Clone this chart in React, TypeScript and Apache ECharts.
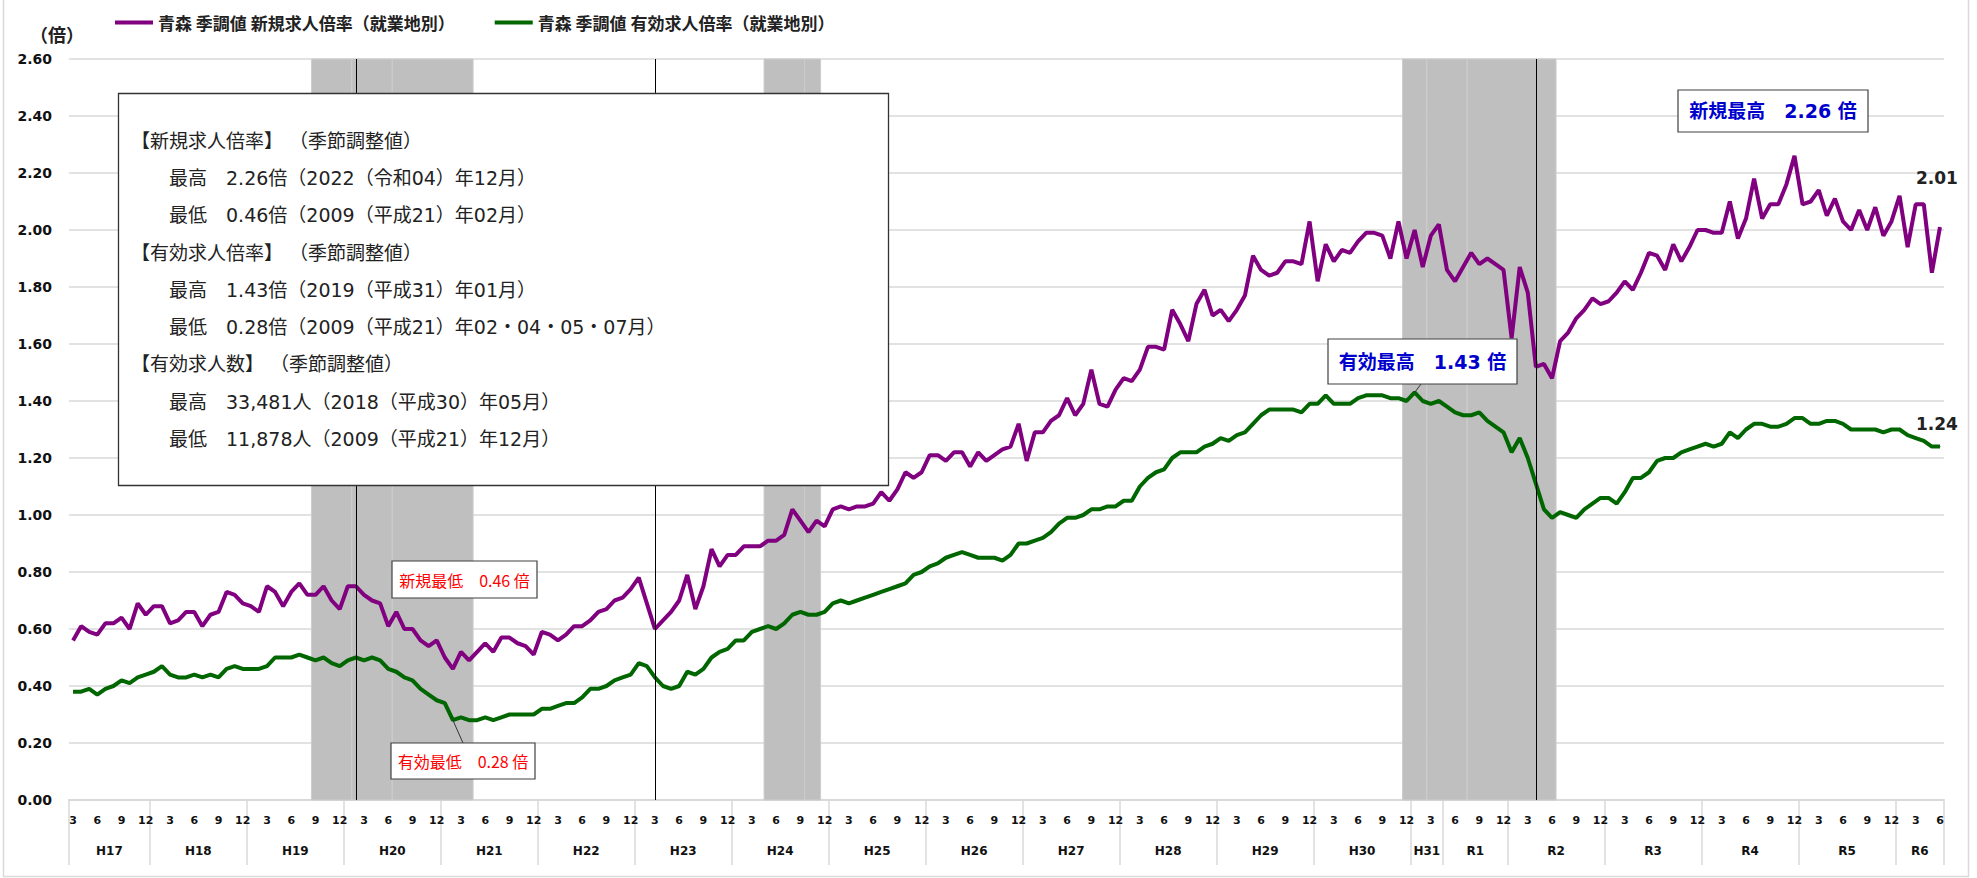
import React, { useEffect, useRef } from "react";
import * as echarts from "echarts";

// ---- data ----
const START_YEAR = 2005;
const START_MONTH = 3;

// 青森 季調値 新規求人倍率（就業地別） 2005/03 .. 2024/06
const newRatio = [
  0.56, 0.61, 0.59, 0.58, 0.62, 0.62, 0.64, 0.60, 0.69, 0.65,
  0.68, 0.68, 0.62, 0.63, 0.66, 0.66, 0.61, 0.65, 0.66, 0.73,
  0.72, 0.69, 0.68, 0.66, 0.75, 0.73, 0.68, 0.73, 0.76, 0.72,
  0.72, 0.75, 0.70, 0.67, 0.75, 0.75, 0.72, 0.70, 0.69, 0.61,
  0.66, 0.60, 0.60, 0.56, 0.54, 0.56, 0.50, 0.46, 0.52, 0.49,
  0.52, 0.55, 0.52, 0.57, 0.57, 0.55, 0.54, 0.51, 0.59, 0.58,
  0.56, 0.58, 0.61, 0.61, 0.63, 0.66, 0.67, 0.70, 0.71, 0.74,
  0.78, 0.69, 0.60, 0.63, 0.66, 0.70, 0.79, 0.67, 0.75, 0.88,
  0.82, 0.86, 0.86, 0.89, 0.89, 0.89, 0.91, 0.91, 0.93, 1.02,
  0.98, 0.94, 0.98, 0.96, 1.02, 1.03, 1.02, 1.03, 1.03, 1.04,
  1.08, 1.05, 1.09, 1.15, 1.13, 1.15, 1.21, 1.21, 1.19, 1.22,
  1.22, 1.17, 1.22, 1.19, 1.21, 1.23, 1.24, 1.32, 1.19, 1.29,
  1.29, 1.33, 1.35, 1.41, 1.35, 1.39, 1.51, 1.39, 1.38, 1.44,
  1.48, 1.47, 1.51, 1.59, 1.59, 1.58, 1.72, 1.67, 1.61, 1.74,
  1.79, 1.70, 1.72, 1.68, 1.72, 1.77, 1.91, 1.86, 1.84, 1.85,
  1.89, 1.89, 1.88, 2.03, 1.82, 1.95, 1.89, 1.93, 1.92, 1.96,
  1.99, 1.99, 1.98, 1.90, 2.03, 1.90, 2.00, 1.87, 1.98, 2.02,
  1.86, 1.82, 1.87, 1.92, 1.88, 1.90, 1.88, 1.86, 1.62, 1.87,
  1.78, 1.52, 1.53, 1.48, 1.61, 1.64, 1.69, 1.72, 1.76, 1.74,
  1.75, 1.78, 1.82, 1.79, 1.85, 1.92, 1.91, 1.86, 1.95, 1.89,
  1.94, 2.00, 2.00, 1.99, 1.99, 2.10, 1.97, 2.04, 2.18, 2.04,
  2.09, 2.09, 2.16, 2.26, 2.09, 2.10, 2.14, 2.05, 2.11, 2.03,
  2.00, 2.07, 2.00, 2.08, 1.98, 2.03, 2.12, 1.94, 2.09, 2.09,
  1.85, 2.01,
];

// 青森 季調値 有効求人倍率（就業地別）
const activeRatio = [
  0.38, 0.38, 0.39, 0.37, 0.39, 0.40, 0.42, 0.41, 0.43, 0.44,
  0.45, 0.47, 0.44, 0.43, 0.43, 0.44, 0.43, 0.44, 0.43, 0.46,
  0.47, 0.46, 0.46, 0.46, 0.47, 0.50, 0.50, 0.50, 0.51, 0.50,
  0.49, 0.50, 0.48, 0.47, 0.49, 0.50, 0.49, 0.50, 0.49, 0.46,
  0.45, 0.43, 0.42, 0.39, 0.37, 0.35, 0.34, 0.28, 0.29, 0.28,
  0.28, 0.29, 0.28, 0.29, 0.30, 0.30, 0.30, 0.30, 0.32, 0.32,
  0.33, 0.34, 0.34, 0.36, 0.39, 0.39, 0.40, 0.42, 0.43, 0.44,
  0.48, 0.47, 0.43, 0.40, 0.39, 0.40, 0.45, 0.44, 0.46, 0.50,
  0.52, 0.53, 0.56, 0.56, 0.59, 0.60, 0.61, 0.60, 0.62, 0.65,
  0.66, 0.65, 0.65, 0.66, 0.69, 0.70, 0.69, 0.70, 0.71, 0.72,
  0.73, 0.74, 0.75, 0.76, 0.79, 0.80, 0.82, 0.83, 0.85, 0.86,
  0.87, 0.86, 0.85, 0.85, 0.85, 0.84, 0.86, 0.90, 0.90, 0.91,
  0.92, 0.94, 0.97, 0.99, 0.99, 1.00, 1.02, 1.02, 1.03, 1.03,
  1.05, 1.05, 1.10, 1.13, 1.15, 1.16, 1.20, 1.22, 1.22, 1.22,
  1.24, 1.25, 1.27, 1.26, 1.28, 1.29, 1.32, 1.35, 1.37, 1.37,
  1.37, 1.37, 1.36, 1.39, 1.39, 1.42, 1.39, 1.39, 1.39, 1.41,
  1.42, 1.42, 1.42, 1.41, 1.41, 1.40, 1.43, 1.40, 1.39, 1.40,
  1.38, 1.36, 1.35, 1.35, 1.36, 1.33, 1.31, 1.29, 1.22, 1.27,
  1.20, 1.11, 1.02, 0.99, 1.01, 1.00, 0.99, 1.02, 1.04, 1.06,
  1.06, 1.04, 1.08, 1.13, 1.13, 1.15, 1.19, 1.20, 1.20, 1.22,
  1.23, 1.24, 1.25, 1.24, 1.25, 1.29, 1.27, 1.30, 1.32, 1.32,
  1.31, 1.31, 1.32, 1.34, 1.34, 1.32, 1.32, 1.33, 1.33, 1.32,
  1.30, 1.30, 1.30, 1.30, 1.29, 1.30, 1.30, 1.28, 1.27, 1.26,
  1.24, 1.24,
];

const months: string[] = newRatio.map((_, i) => {
  const m = START_MONTH - 1 + i;
  return `${START_YEAR + Math.floor(m / 12)}/${(m % 12) + 1}`;
});

// era-year labels and their month-index boundaries
const yearLabels = [
  "H17", "H18", "H19", "H20", "H21", "H22", "H23", "H24", "H25", "H26",
  "H27", "H28", "H29", "H30", "H31", "R1", "R2", "R3", "R4", "R5", "R6",
];
const yearBounds = [
  0, 10, 22, 34, 46, 58, 70, 82, 94, 106, 118, 130, 142, 154, 166, 170,
  178, 190, 202, 214, 226, 232,
];

// shaded periods (month-index boundaries)
const shadedPeriods = [
  [30, 35], [35, 40], [40, 50],
  [86, 91], [91, 93],
  [165, 168], [168, 173], [173, 184],
];
// vertical event lines (month index)
const eventMonths = [35, 72, 181];

const NAME_NEW = "青森 季調値 新規求人倍率（就業地別）";
const NAME_ACT = "青森 季調値 有効求人倍率（就業地別）";

const infoLines = [
  "【新規求人倍率】 （季節調整値）",
  "　　最高　2.26倍（2022（令和04）年12月）",
  "　　最低　0.46倍（2009（平成21）年02月）",
  "【有効求人倍率】 （季節調整値）",
  "　　最高　1.43倍（2019（平成31）年01月）",
  "　　最低　0.28倍（2009（平成21）年02・04・05・07月）",
  "【有効求人数】 （季節調整値）",
  "　　最高　33,481人（2018（平成30）年05月）",
  "　　最低　11,878人（2009（平成21）年12月）",
];

const JP = '"Noto Sans CJK JP", "Noto Sans", sans-serif';
const NUM = '"DejaVu Sans", "Noto Sans CJK JP", sans-serif';

const yearCenters = yearLabels.map((_, k) => (yearBounds[k] + yearBounds[k + 1]) / 2);

function withEndLabel(values: number[], color: string, distance: number) {
  return values.map((v, i) =>
    i === values.length - 1
      ? {
          value: v,
          symbol: "circle",
          symbolSize: 1,
          itemStyle: { color },
          label: {
            show: true,
            position: "top",
            distance,
            offset: [-3, 0],
            formatter: (p: any) => Number(p.value).toFixed(2),
            fontFamily: NUM,
            fontWeight: "bold",
            fontSize: 17,
            color: "#222",
          },
        }
      : v
  );
}

export default function App() {
  const ref = useRef<HTMLDivElement>(null);
  useEffect(() => {
    if (!ref.current) return;
    const chart = echarts.init(ref.current, undefined, { renderer: "svg" });
    chart.setOption({
      animation: false,
      backgroundColor: "#fff",
      legend: {
        data: [NAME_NEW, NAME_ACT],
        left: 110,
        top: 9,
        icon: "rect",
        itemWidth: 38,
        itemHeight: 4,
        itemGap: 40,
        textStyle: { fontFamily: JP, fontWeight: "bold", fontSize: 17, color: "#222" },
      },
      grid: { left: 69, right: 33, top: 59, bottom: 78 },
      xAxis: [
        {
          type: "category",
          data: months,
          boundaryGap: true,
          axisLine: { show: true, lineStyle: { color: "#d9d9d9", width: 2 } },
          axisTick: { show: false },
          splitLine: { show: false },
          axisLabel: {
            interval: (_idx: number, v: string) => parseInt(v.split("/")[1], 10) % 3 === 0,
            formatter: (v: string) => v.split("/")[1],
            margin: 15,
            fontFamily: NUM,
            fontWeight: "bold",
            fontSize: 11,
            color: "#111",
          },
        },
        {
          type: "value",
          position: "bottom",
          min: 0,
          max: yearBounds[yearBounds.length - 1],
          axisLine: { show: false },
          splitLine: { show: false },
          axisTick: {
            show: true,
            customValues: yearBounds,
            length: 65,
            lineStyle: { color: "#d9d9d9", width: 1.5 },
          },
          axisLabel: {
            customValues: yearCenters,
            formatter: (v: number) => {
              const k = yearCenters.findIndex((c) => Math.abs(c - v) < 1e-6);
              return k >= 0 ? yearLabels[k] : "";
            },
            margin: 45,
            fontFamily: NUM,
            fontWeight: "bold",
            fontSize: 12,
            color: "#111",
          },
        },
      ],
      yAxis: {
        type: "value",
        min: 0,
        max: 2.6,
        interval: 0.2,
        axisLine: { show: false },
        axisTick: { show: false },
        splitLine: { lineStyle: { color: "#d9d9d9", width: 1.5 } },
        axisLabel: {
          formatter: (v: number) => v.toFixed(2),
          margin: 17,
          fontFamily: NUM,
          fontWeight: "bold",
          fontSize: 14,
          color: "#111",
        },
      },
      series: [
        {
          type: "line",
          xAxisIndex: 1,
          yAxisIndex: 0,
          data: [],
          silent: true,
          z: 1,
          markArea: {
            silent: true,
            itemStyle: { color: "#bfbfbf", borderColor: "#cdcdcd", borderWidth: 1 },
            data: shadedPeriods.map(([a, b]) => [{ xAxis: a }, { xAxis: b }]),
          },
          markLine: {
            silent: true,
            symbol: ["none", "none"],
            label: { show: false },
            lineStyle: { color: "#000", width: 1, type: "solid" },
            data: eventMonths.map((i) => ({ xAxis: i + 0.5 })),
          },
        },
        {
          name: NAME_NEW,
          type: "line",
          xAxisIndex: 0,
          data: withEndLabel(newRatio, "#800080", 40),
          symbol: "none",
          showAllSymbol: true,
          z: 3,
          color: "#800080",
          lineStyle: { color: "#800080", width: 4 },
        },
        {
          name: NAME_ACT,
          type: "line",
          xAxisIndex: 0,
          data: withEndLabel(activeRatio, "#006600", 14),
          symbol: "none",
          showAllSymbol: true,
          z: 3,
          color: "#006600",
          lineStyle: { color: "#006600", width: 4 },
        },
      ],
    });

    const toPx = (i: number, v: number) =>
      chart.convertToPixel({ xAxisIndex: 0, yAxisIndex: 0 }, [i, v]) as number[];
    const actMin = toPx(47, activeRatio[47]);
    const actMax = toPx(166, activeRatio[166]);

    const box = (x: number, y: number, w: number, h: number, text: string, color: string, bold: boolean, size: number) => ({
      type: "group",
      z: 100,
      children: [
        { type: "rect", shape: { x, y, width: w, height: h }, style: { fill: "#fff", stroke: "#404040", lineWidth: 1.2 }, z: 100 },
        {
          type: "text",
          z: 101,
          style: {
            x: x + w / 2,
            y: y + h / 2,
            text,
            align: "center",
            verticalAlign: "middle",
            fill: color,
            fontFamily: bold ? NUM : JP,
            fontWeight: bold ? "bold" : "normal",
            fontSize: size,
          },
        },
      ],
    });

    chart.setOption({
      graphic: [
        {
          type: "rect",
          z: 0,
          silent: true,
          shape: { x: 3.5, y: -3, width: 1965, height: 879.5 },
          style: { fill: "none", stroke: "#d9d9d9", lineWidth: 1.5 },
        },
        {
          type: "text",
          z: 100,
          style: { x: 30, y: 34, text: "（倍）", verticalAlign: "middle", fontFamily: JP, fontWeight: "bold", fontSize: 18, fill: "#222" },
        },
        {
          type: "rect",
          z: 100,
          shape: { x: 118.5, y: 93.5, width: 770, height: 392 },
          style: { fill: "#fff", stroke: "#333", lineWidth: 1.3 },
        },
        {
          type: "text",
          z: 101,
          style: {
            x: 131,
            y: 122,
            text: infoLines.join("\n"),
            lineHeight: 37.3,
            verticalAlign: "top",
            fontFamily: NUM,
            fontSize: 19,
            fill: "#222",
          },
        },
        { type: "line", z: 99, shape: { x1: 463, y1: 743, x2: actMin[0], y2: actMin[1] }, style: { stroke: "#333", lineWidth: 1 } },
        { type: "line", z: 99, shape: { x1: 1421, y1: 384, x2: actMax[0], y2: actMax[1] }, style: { stroke: "#333", lineWidth: 1 } },
        box(392, 561, 145, 37, "新規最低　0.46 倍", "#ff0000", false, 16),
        box(391, 743, 144, 36, "有効最低　0.28 倍", "#ff0000", false, 16),
        box(1328, 339, 189, 45, "有効最高　1.43 倍", "#0000cc", true, 19),
        box(1678, 90, 190, 42, "新規最高　2.26 倍", "#0000cc", true, 19),
      ],
    });

    return () => chart.dispose();
  }, []);

  return (
    <div
      ref={ref}
      style={{ position: "fixed", left: 0, top: 0, width: 1977, height: 878, background: "#fff" }}
    />
  );
}
